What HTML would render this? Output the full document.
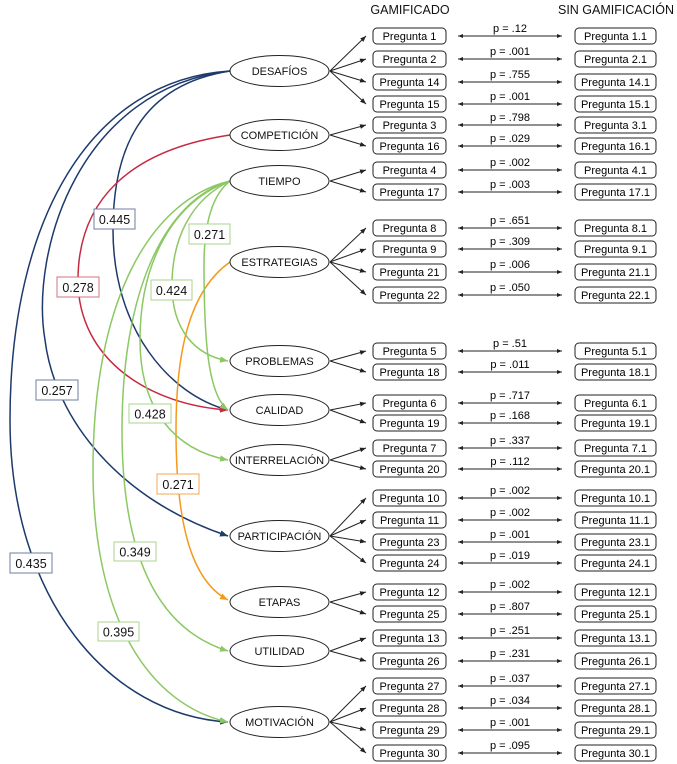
<!DOCTYPE html>
<html><head><meta charset="utf-8"><style>
html,body{margin:0;padding:0;background:#fff;}
svg{display:block;font-family:"Liberation Sans",Arial,sans-serif;}
</style></head><body>
<svg width="677" height="764" viewBox="0 0 677 764" xmlns="http://www.w3.org/2000/svg">
<defs>
<marker id="mb" viewBox="0 0 10 10" refX="10" refY="5" markerWidth="5" markerHeight="5" markerUnits="userSpaceOnUse" orient="auto-start-reverse"><path d="M0,1 L10,5 L0,9 z" fill="#222"/></marker>
<marker id="mk" viewBox="0 0 10 10" refX="10" refY="5" markerWidth="6" markerHeight="6" markerUnits="userSpaceOnUse" orient="auto"><path d="M0,1 L10,5 L0,9 z" fill="#222"/></marker>
<marker id="mn" viewBox="0 0 10 10" refX="10" refY="5" markerWidth="8" markerHeight="8" markerUnits="userSpaceOnUse" orient="auto"><path d="M0,1 L10,5 L0,9 z" fill="#1d3a6c"/></marker>
<marker id="mr" viewBox="0 0 10 10" refX="10" refY="5" markerWidth="8" markerHeight="8" markerUnits="userSpaceOnUse" orient="auto"><path d="M0,1 L10,5 L0,9 z" fill="#c62a40"/></marker>
<marker id="mg" viewBox="0 0 10 10" refX="10" refY="5" markerWidth="8" markerHeight="8" markerUnits="userSpaceOnUse" orient="auto"><path d="M0,1 L10,5 L0,9 z" fill="#8cc863"/></marker>
<marker id="mo" viewBox="0 0 10 10" refX="10" refY="5" markerWidth="8" markerHeight="8" markerUnits="userSpaceOnUse" orient="auto"><path d="M0,1 L10,5 L0,9 z" fill="#f39a1c"/></marker>
</defs>

<!-- headers -->
<text x="410" y="14" font-size="12.5" text-anchor="middle" fill="#111">GAMIFICADO</text>
<text x="616" y="14" font-size="12.5" text-anchor="middle" fill="#111">SIN GAMIFICACIÓN</text>

<!-- colored curves -->
<g fill="none" stroke-width="1.5">
<path d="M230,71 C90,80 10,220 10,420 C10,600 110,715 228,722" stroke="#1d3a6c" marker-end="url(#mn)"/>
<path d="M230,71 C80,88 30,250 45,340 C55,420 120,500 228,536" stroke="#1d3a6c" marker-end="url(#mn)"/>
<path d="M230,71 C140,85 113,150 113,230 C113,330 170,395 228,410" stroke="#1d3a6c" marker-end="url(#mn)"/>
<path d="M230,135 C130,150 78,200 78,280 C78,360 150,405 228,410" stroke="#c62a40" marker-end="url(#mr)"/>
<path d="M230,262 C190,290 176,350 176,430 C176,520 190,580 228,600" stroke="#f39a1c" marker-end="url(#mo)"/>
<path d="M230,181 C212,195 204,225 204,265 C204,340 208,395 228,410" stroke="#8cc863" marker-end="url(#mg)"/>
<path d="M230,181 C190,200 172,240 172,285 C172,330 195,355 228,361" stroke="#8cc863" marker-end="url(#mg)"/>
<path d="M230,181 C175,200 140,260 140,340 C140,410 175,450 228,460" stroke="#8cc863" marker-end="url(#mg)"/>
<path d="M230,181 C165,200 122,290 122,430 C122,560 160,630 228,651" stroke="#8cc863" marker-end="url(#mg)"/>
<path d="M230,181 C150,200 93,300 93,470 C93,620 150,705 228,722" stroke="#8cc863" marker-end="url(#mg)"/>
</g>

<!-- value labels -->
<g font-size="12.5" text-anchor="middle" fill="#111">
<rect x="94" y="209" width="41" height="20" fill="#fff" stroke="#6d7fa0"/><text x="114.5" y="224">0.445</text>
<rect x="189" y="224" width="41" height="20" fill="#fff" stroke="#a9d48e"/><text x="209.5" y="239">0.271</text>
<rect x="57" y="277" width="42" height="20" fill="#fff" stroke="#d4707f"/><text x="78" y="292">0.278</text>
<rect x="151" y="280" width="41" height="20" fill="#fff" stroke="#a9d48e"/><text x="171.5" y="295">0.424</text>
<rect x="36" y="380" width="42" height="20" fill="#fff" stroke="#6d7fa0"/><text x="57" y="395">0.257</text>
<rect x="129" y="404" width="42" height="19" fill="#fff" stroke="#a9d48e"/><text x="150" y="418.5">0.428</text>
<rect x="157" y="474" width="42" height="20" fill="#fff" stroke="#f0a850"/><text x="178" y="489">0.271</text>
<rect x="114" y="542" width="42" height="19" fill="#fff" stroke="#a9d48e"/><text x="135" y="556.5">0.349</text>
<rect x="10" y="553" width="42" height="20" fill="#fff" stroke="#6d7fa0"/><text x="31" y="568">0.435</text>
<rect x="98" y="622" width="41" height="19" fill="#fff" stroke="#a9d48e"/><text x="118.5" y="636.5">0.395</text>
</g>

<!-- ellipses -->
<g fill="#fff" stroke="#222" stroke-width="1">
<ellipse cx="279.5" cy="71" rx="49.5" ry="15.5"/>
<ellipse cx="279.5" cy="135" rx="49.5" ry="15.5"/>
<ellipse cx="279.5" cy="181" rx="49.5" ry="15.5"/>
<ellipse cx="279.5" cy="262" rx="49.5" ry="15.5"/>
<ellipse cx="279.5" cy="361" rx="49.5" ry="15.5"/>
<ellipse cx="279.5" cy="410" rx="49.5" ry="15.5"/>
<ellipse cx="279.5" cy="460" rx="49.5" ry="15.5"/>
<ellipse cx="279.5" cy="536" rx="49.5" ry="15.5"/>
<ellipse cx="279.5" cy="602" rx="49.5" ry="15.5"/>
<ellipse cx="279.5" cy="651" rx="49.5" ry="15.5"/>
<ellipse cx="279.5" cy="722" rx="49.5" ry="15.5"/>
</g>
<g font-size="11" text-anchor="middle" fill="#111">
<text x="279.5" y="75">DESAFÍOS</text>
<text x="279.5" y="139">COMPETICIÓN</text>
<text x="279.5" y="185">TIEMPO</text>
<text x="279.5" y="266">ESTRATEGIAS</text>
<text x="279.5" y="365">PROBLEMAS</text>
<text x="279.5" y="414">CALIDAD</text>
<text x="279.5" y="464">INTERRELACIÓN</text>
<text x="279.5" y="540">PARTICIPACIÓN</text>
<text x="279.5" y="606">ETAPAS</text>
<text x="279.5" y="655">UTILIDAD</text>
<text x="279.5" y="726">MOTIVACIÓN</text>
</g>

<!-- ellipse to item arrows -->
<g stroke="#222" stroke-width="1" fill="none" marker-end="url(#mk)">
<path d="M330,71 L366,36"/><path d="M330,71 L366,59"/><path d="M330,71 L366,82"/><path d="M330,71 L366,104"/>
<path d="M330,135 L366,125"/><path d="M330,135 L366,146"/>
<path d="M330,181 L366,170"/><path d="M330,181 L366,192"/>
<path d="M330,262 L366,228"/><path d="M330,262 L366,249"/><path d="M330,262 L366,272"/><path d="M330,262 L366,295"/>
<path d="M330,361 L366,351"/><path d="M330,361 L366,372"/>
<path d="M330,410 L366,403"/><path d="M330,410 L366,423"/>
<path d="M330,460 L366,448"/><path d="M330,460 L366,469"/>
<path d="M330,536 L366,498"/><path d="M330,536 L366,520"/><path d="M330,536 L366,542"/><path d="M330,536 L366,563"/>
<path d="M330,602 L366,592"/><path d="M330,602 L366,614"/>
<path d="M330,651 L366,638"/><path d="M330,651 L366,661"/>
<path d="M330,722 L366,686"/><path d="M330,722 L366,708"/><path d="M330,722 L366,730"/><path d="M330,722 L366,753"/>
</g>

<!-- double arrows -->
<g stroke="#222" stroke-width="0.9" fill="none" marker-start="url(#mb)" marker-end="url(#mb)">
<path d="M458,36 H562"/><path d="M458,59 H562"/><path d="M458,82 H562"/><path d="M458,104 H562"/>
<path d="M458,125 H562"/><path d="M458,146 H562"/><path d="M458,170 H562"/><path d="M458,192 H562"/>
<path d="M458,228 H562"/><path d="M458,249 H562"/><path d="M458,272 H562"/><path d="M458,295 H562"/>
<path d="M458,351 H562"/><path d="M458,372 H562"/><path d="M458,403 H562"/><path d="M458,423 H562"/>
<path d="M458,448 H562"/><path d="M458,469 H562"/><path d="M458,498 H562"/><path d="M458,520 H562"/>
<path d="M458,542 H562"/><path d="M458,563 H562"/><path d="M458,592 H562"/><path d="M458,614 H562"/>
<path d="M458,638 H562"/><path d="M458,661 H562"/><path d="M458,686 H562"/><path d="M458,708 H562"/>
<path d="M458,730 H562"/><path d="M458,753 H562"/>
</g>

<!-- boxes -->
<g fill="#fff" stroke="#222" stroke-width="1">
<rect x="373" y="28" width="73" height="16" rx="4"/><rect x="575" y="28" width="81" height="16" rx="4"/>
<rect x="373" y="51" width="73" height="16" rx="4"/><rect x="575" y="51" width="81" height="16" rx="4"/>
<rect x="373" y="74" width="73" height="16" rx="4"/><rect x="575" y="74" width="81" height="16" rx="4"/>
<rect x="373" y="96" width="73" height="16" rx="4"/><rect x="575" y="96" width="81" height="16" rx="4"/>
<rect x="373" y="117" width="73" height="16" rx="4"/><rect x="575" y="117" width="81" height="16" rx="4"/>
<rect x="373" y="138" width="73" height="16" rx="4"/><rect x="575" y="138" width="81" height="16" rx="4"/>
<rect x="373" y="162" width="73" height="16" rx="4"/><rect x="575" y="162" width="81" height="16" rx="4"/>
<rect x="373" y="184" width="73" height="16" rx="4"/><rect x="575" y="184" width="81" height="16" rx="4"/>
<rect x="373" y="220" width="73" height="16" rx="4"/><rect x="575" y="220" width="81" height="16" rx="4"/>
<rect x="373" y="241" width="73" height="16" rx="4"/><rect x="575" y="241" width="81" height="16" rx="4"/>
<rect x="373" y="264" width="73" height="16" rx="4"/><rect x="575" y="264" width="81" height="16" rx="4"/>
<rect x="373" y="287" width="73" height="16" rx="4"/><rect x="575" y="287" width="81" height="16" rx="4"/>
<rect x="373" y="343" width="73" height="16" rx="4"/><rect x="575" y="343" width="81" height="16" rx="4"/>
<rect x="373" y="364" width="73" height="16" rx="4"/><rect x="575" y="364" width="81" height="16" rx="4"/>
<rect x="373" y="395" width="73" height="16" rx="4"/><rect x="575" y="395" width="81" height="16" rx="4"/>
<rect x="373" y="415" width="73" height="16" rx="4"/><rect x="575" y="415" width="81" height="16" rx="4"/>
<rect x="373" y="440" width="73" height="16" rx="4"/><rect x="575" y="440" width="81" height="16" rx="4"/>
<rect x="373" y="461" width="73" height="16" rx="4"/><rect x="575" y="461" width="81" height="16" rx="4"/>
<rect x="373" y="490" width="73" height="16" rx="4"/><rect x="575" y="490" width="81" height="16" rx="4"/>
<rect x="373" y="512" width="73" height="16" rx="4"/><rect x="575" y="512" width="81" height="16" rx="4"/>
<rect x="373" y="534" width="73" height="16" rx="4"/><rect x="575" y="534" width="81" height="16" rx="4"/>
<rect x="373" y="555" width="73" height="16" rx="4"/><rect x="575" y="555" width="81" height="16" rx="4"/>
<rect x="373" y="584" width="73" height="16" rx="4"/><rect x="575" y="584" width="81" height="16" rx="4"/>
<rect x="373" y="606" width="73" height="16" rx="4"/><rect x="575" y="606" width="81" height="16" rx="4"/>
<rect x="373" y="630" width="73" height="16" rx="4"/><rect x="575" y="630" width="81" height="16" rx="4"/>
<rect x="373" y="653" width="73" height="16" rx="4"/><rect x="575" y="653" width="81" height="16" rx="4"/>
<rect x="373" y="678" width="73" height="16" rx="4"/><rect x="575" y="678" width="81" height="16" rx="4"/>
<rect x="373" y="700" width="73" height="16" rx="4"/><rect x="575" y="700" width="81" height="16" rx="4"/>
<rect x="373" y="722" width="73" height="16" rx="4"/><rect x="575" y="722" width="81" height="16" rx="4"/>
<rect x="373" y="745" width="73" height="16" rx="4"/><rect x="575" y="745" width="81" height="16" rx="4"/>
</g>

<g font-size="11" text-anchor="middle" fill="#000">
<text x="409.5" y="40">Pregunta 1</text><text x="615.5" y="40">Pregunta 1.1</text><text x="510" y="32">p = .12</text>
<text x="409.5" y="63">Pregunta 2</text><text x="615.5" y="63">Pregunta 2.1</text><text x="510" y="55">p = .001</text>
<text x="409.5" y="86">Pregunta 14</text><text x="615.5" y="86">Pregunta 14.1</text><text x="510" y="78">p = .755</text>
<text x="409.5" y="108">Pregunta 15</text><text x="615.5" y="108">Pregunta 15.1</text><text x="510" y="100">p = .001</text>
<text x="409.5" y="129">Pregunta 3</text><text x="615.5" y="129">Pregunta 3.1</text><text x="510" y="121">p = .798</text>
<text x="409.5" y="150">Pregunta 16</text><text x="615.5" y="150">Pregunta 16.1</text><text x="510" y="142">p = .029</text>
<text x="409.5" y="174">Pregunta 4</text><text x="615.5" y="174">Pregunta 4.1</text><text x="510" y="166">p = .002</text>
<text x="409.5" y="196">Pregunta 17</text><text x="615.5" y="196">Pregunta 17.1</text><text x="510" y="188">p = .003</text>
<text x="409.5" y="232">Pregunta 8</text><text x="615.5" y="232">Pregunta 8.1</text><text x="510" y="224">p = .651</text>
<text x="409.5" y="253">Pregunta 9</text><text x="615.5" y="253">Pregunta 9.1</text><text x="510" y="245">p = .309</text>
<text x="409.5" y="276">Pregunta 21</text><text x="615.5" y="276">Pregunta 21.1</text><text x="510" y="268">p = .006</text>
<text x="409.5" y="299">Pregunta 22</text><text x="615.5" y="299">Pregunta 22.1</text><text x="510" y="291">p = .050</text>
<text x="409.5" y="355">Pregunta 5</text><text x="615.5" y="355">Pregunta 5.1</text><text x="510" y="347">p = .51</text>
<text x="409.5" y="376">Pregunta 18</text><text x="615.5" y="376">Pregunta 18.1</text><text x="510" y="368">p = .011</text>
<text x="409.5" y="407">Pregunta 6</text><text x="615.5" y="407">Pregunta 6.1</text><text x="510" y="399">p = .717</text>
<text x="409.5" y="427">Pregunta 19</text><text x="615.5" y="427">Pregunta 19.1</text><text x="510" y="419">p = .168</text>
<text x="409.5" y="452">Pregunta 7</text><text x="615.5" y="452">Pregunta 7.1</text><text x="510" y="444">p = .337</text>
<text x="409.5" y="473">Pregunta 20</text><text x="615.5" y="473">Pregunta 20.1</text><text x="510" y="465">p = .112</text>
<text x="409.5" y="502">Pregunta 10</text><text x="615.5" y="502">Pregunta 10.1</text><text x="510" y="494">p = .002</text>
<text x="409.5" y="524">Pregunta 11</text><text x="615.5" y="524">Pregunta 11.1</text><text x="510" y="516">p = .002</text>
<text x="409.5" y="546">Pregunta 23</text><text x="615.5" y="546">Pregunta 23.1</text><text x="510" y="538">p = .001</text>
<text x="409.5" y="567">Pregunta 24</text><text x="615.5" y="567">Pregunta 24.1</text><text x="510" y="559">p = .019</text>
<text x="409.5" y="596">Pregunta 12</text><text x="615.5" y="596">Pregunta 12.1</text><text x="510" y="588">p = .002</text>
<text x="409.5" y="618">Pregunta 25</text><text x="615.5" y="618">Pregunta 25.1</text><text x="510" y="610">p = .807</text>
<text x="409.5" y="642">Pregunta 13</text><text x="615.5" y="642">Pregunta 13.1</text><text x="510" y="634">p = .251</text>
<text x="409.5" y="665">Pregunta 26</text><text x="615.5" y="665">Pregunta 26.1</text><text x="510" y="657">p = .231</text>
<text x="409.5" y="690">Pregunta 27</text><text x="615.5" y="690">Pregunta 27.1</text><text x="510" y="682">p = .037</text>
<text x="409.5" y="712">Pregunta 28</text><text x="615.5" y="712">Pregunta 28.1</text><text x="510" y="704">p = .034</text>
<text x="409.5" y="734">Pregunta 29</text><text x="615.5" y="734">Pregunta 29.1</text><text x="510" y="726">p = .001</text>
<text x="409.5" y="757">Pregunta 30</text><text x="615.5" y="757">Pregunta 30.1</text><text x="510" y="749">p = .095</text>
</g>
</svg>
</body></html>
